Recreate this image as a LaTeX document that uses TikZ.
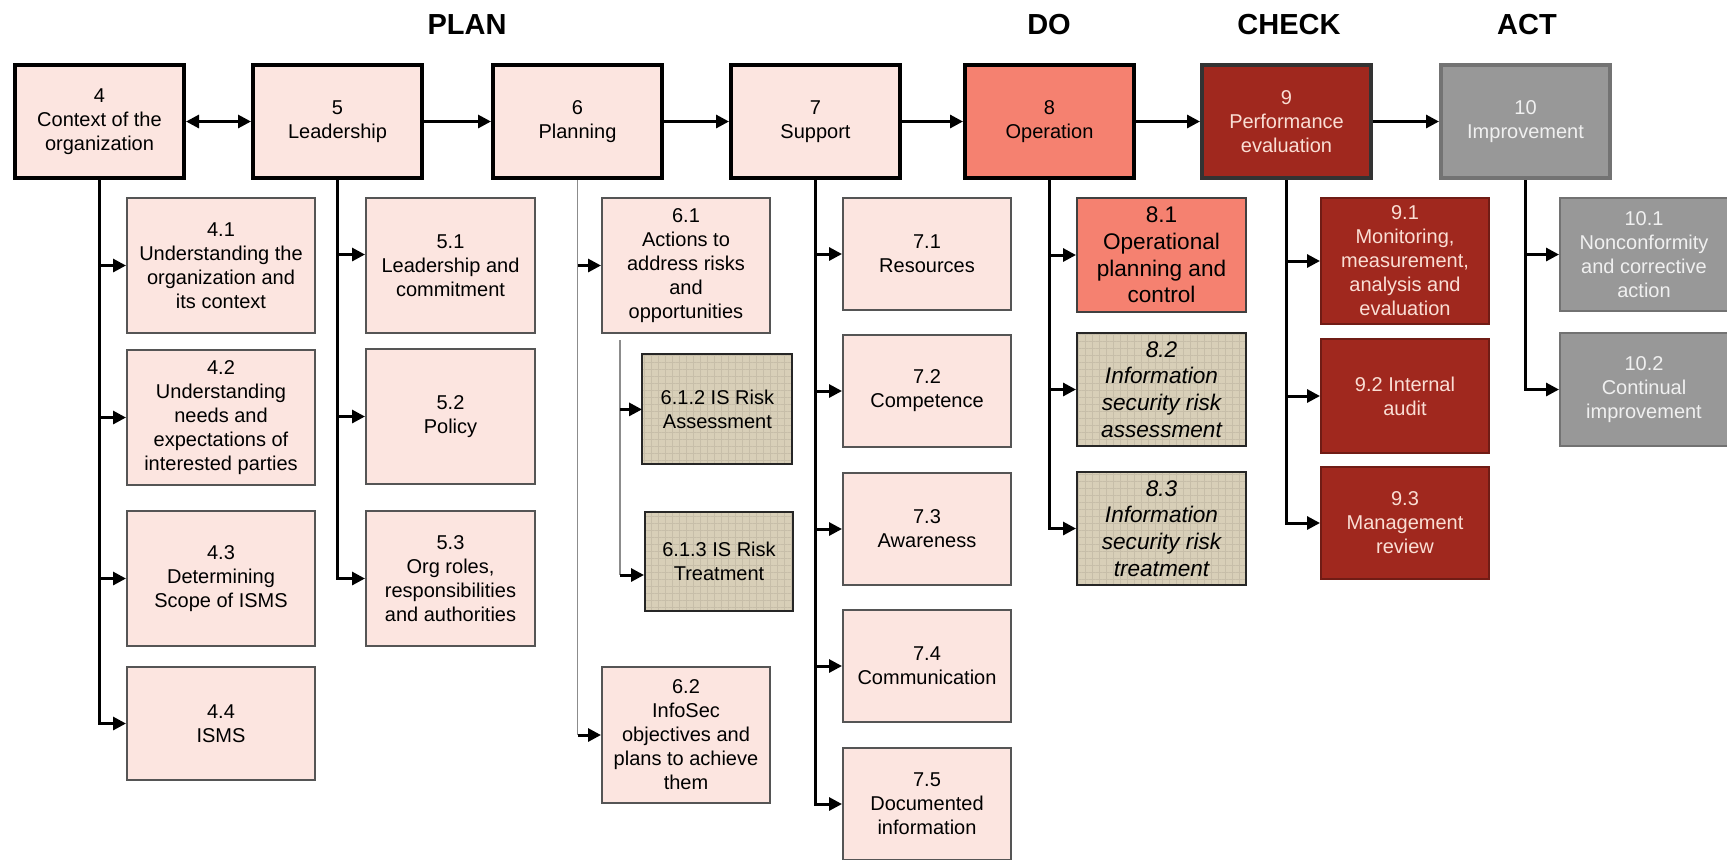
\documentclass[tikz,border=0pt]{standalone}
\usepackage{fontspec}
\setmainfont{Liberation Sans}
\usepackage{xcolor}
\usetikzlibrary{arrows.meta,patterns.meta}
\definecolor{clausePink}{RGB}{252,229,224}
\definecolor{opSalmon}{RGB}{245,129,112}
\definecolor{checkRed}{RGB}{160,40,30}
\definecolor{checkText}{RGB}{250,222,212}
\definecolor{actGray}{RGB}{152,152,152}
\definecolor{actText}{RGB}{240,240,240}
\definecolor{riskPaper}{RGB}{216,207,184}
\definecolor{boxEdge}{RGB}{85,85,85}

\begin{document}
\begin{tikzpicture}[x=0.5pt,y=-0.5pt,
    every node/.style={align=center,inner sep=2pt,font=\fontsize{10}{12}\selectfont},
    clauseBox/.style={draw=black,line width=2pt,anchor=north west,minimum width=84.5pt,minimum height=56.5pt},
    subBox/.style={draw=boxEdge,line width=1pt,fill=clausePink,anchor=north west},
    riskBox/.style={draw=black!85,line width=1pt,anchor=north west,preaction={fill=riskPaper},pattern={Hatch[angle=0,distance=3.5pt,line width=0.4pt]},pattern color=riskPaper!92!black},
    bigText/.style={font=\fontsize{11.3}{13.3}\selectfont},
    slantText/.style={font=\fontsize{11.3}{13.3}\selectfont\itshape},
    feedArrow/.style={line width=1.5pt,-{Triangle[length=6.5pt,width=6.5pt]}},
    bothArrow/.style={line width=1.5pt,{Triangle[length=6.5pt,width=6.5pt]}-{Triangle[length=6.5pt,width=6.5pt]}},
    thinTrunk/.style={line width=0.6pt,draw=black!45},
    phaseLabel/.style={font=\fontsize{14.5}{17}\selectfont\bfseries}]

    \useasboundingbox[fill=white] (0,0) rectangle (1727,859);

    % PDCA headings
    \node[phaseLabel] (plan) at (467,25) {PLAN};
    \node[phaseLabel] (do) at (1049,25) {DO};
    \node[phaseLabel] (check) at (1289,25) {CHECK};
    \node[phaseLabel] (act) at (1527,25) {ACT};

    % Main clauses: {number, left x, fill, text colour, edge, title}
    \foreach \i/\x/\fillc/\textc/\edge/\txt in {
        4/13/clausePink/black/black/{4\\Context of the\\organization},
        5/251/clausePink/black/black/{5\\Leadership},
        6/491/clausePink/black/black/{6\\Planning},
        7/729/clausePink/black/black/{7\\Support},
        8/963/opSalmon/black/black/{8\\Operation},
        9/1200/checkRed/checkText/black!80/{9\\Performance\\evaluation},
        10/1439/actGray/actText/black!55/{10\\Improvement}}{
        \node[clauseBox,fill=\fillc,text=\textc,draw=\edge] (c\i) at (\x,63) {\txt};
    }
    \draw[bothArrow] (c4) -- (c5);
    \foreach \a/\b in {5/6,6/7,7/8,8/9,9/10}
        \draw[feedArrow] (c\a) -- (c\b);

    % 4 Context
    \foreach \n/\yTop/\boxH/\txt in {
        1/197/67.5pt/{4.1\\Understanding the\\organization and\\its context},
        2/349/67.5pt/{4.2\\Understanding\\needs and\\expectations of\\interested parties},
        3/510/67.5pt/{4.3\\Determining\\Scope of ISMS},
        4/666/56.5pt/{4.4\\ISMS}}{
        \node[subBox,minimum width=94pt,minimum height=\boxH] (s4\n) at (126,\yTop) {\txt};
        \draw[feedArrow] (c4.south) |- (s4\n.west);
    }

    % 5 Leadership
    \foreach \n/\yTop/\dy/\txt in {
        1/197/5.5pt/{5.1\\Leadership and\\commitment},
        2/348/0pt/{5.2\\Policy},
        3/510/0pt/{5.3\\Org roles,\\responsibilities\\and authorities}}{
        \node[subBox,minimum width=84.5pt,minimum height=67.5pt] (s5\n) at (365,\yTop) {\txt};
        \draw[feedArrow] (c5.south) |- ([yshift=\dy]s5\n.west);
    }

    % 6 Planning
    \node[subBox,minimum width=84pt,minimum height=67.5pt] (s61) at (601,197) {6.1\\Actions to\\address risks\\and\\opportunities};
    \node[riskBox,minimum width=75pt,minimum height=55pt] (s612) at (642,354) {6.1.2 IS Risk\\Assessment};
    \node[riskBox,minimum width=74pt,minimum height=49.5pt] (s613) at (644,511) {6.1.3 IS Risk\\Treatment};
    \node[subBox,minimum width=84pt,minimum height=68pt] (s62) at (601,666) {6.2\\InfoSec\\objectives and\\plans to achieve\\them};
    \draw[thinTrunk] (c6.south) -- (c6.south |- s62.west);
    \foreach \s in {s61,s62}
        \draw[feedArrow] (c6.south |- \s.west) -- (\s.west);
    \coordinate (riskTrunk) at ([xshift=9.5pt,yshift=-3pt]s61.south west);
    \coordinate (s613in) at ([yshift=-6.75pt]s613.west);
    \draw[thinTrunk] (riskTrunk) -- (riskTrunk |- s613in);
    \draw[feedArrow] (riskTrunk |- s612.west) -- (s612.west);
    \draw[feedArrow] (riskTrunk |- s613in) -- (s613in);

    % 7 Support
    \foreach \n/\yTop/\txt in {
        1/197/{7.1\\Resources},
        2/334/{7.2\\Competence},
        3/472/{7.3\\Awareness},
        4/609/{7.4\\Communication},
        5/747/{7.5\\Documented\\information}}{
        \node[subBox,minimum width=84pt,minimum height=56pt] (s7\n) at (842,\yTop) {\txt};
        \draw[feedArrow] (c7.south) |- (s7\n.west);
    }

    % 8 Operation
    \node[subBox,bigText,fill=opSalmon,draw=black!75,minimum width=84.5pt,minimum height=57pt] (s81) at (1076,197) {8.1\\Operational\\planning and\\control};
    \node[riskBox,slantText,minimum width=84.5pt,minimum height=56.5pt] (s82) at (1076,332) {8.2\\Information\\security risk\\assessment};
    \node[riskBox,slantText,minimum width=84.5pt,minimum height=56.5pt] (s83) at (1076,471) {8.3\\Information\\security risk\\treatment};
    \foreach \s in {s81,s82,s83}
        \draw[feedArrow] (c8.south) |- (\s.west);

    % 9 Performance evaluation
    \foreach \n/\yTop/\boxH/\txt in {
        1/197/63pt/{9.1\\Monitoring,\\measurement,\\analysis and\\evaluation},
        2/338/57pt/{9.2 Internal\\audit},
        3/466/56pt/{9.3\\Management\\review}}{
        \node[subBox,fill=checkRed,text=checkText,draw=checkRed!70!black,minimum width=84pt,minimum height=\boxH] (s9\n) at (1320,\yTop) {\txt};
        \draw[feedArrow] (c9.south) |- (s9\n.west);
    }

    % 10 Improvement
    \foreach \n/\yTop/\txt in {
        1/197/{10.1\\Nonconformity\\and corrective\\action},
        2/332/{10.2\\Continual\\improvement}}{
        \node[subBox,fill=actGray,text=actText,draw=actGray!75!black,minimum width=84pt,minimum height=56.5pt] (s10\n) at (1559,\yTop) {\txt};
        \draw[feedArrow] (c10.south) |- (s10\n.west);
    }
\end{tikzpicture}
\end{document}
